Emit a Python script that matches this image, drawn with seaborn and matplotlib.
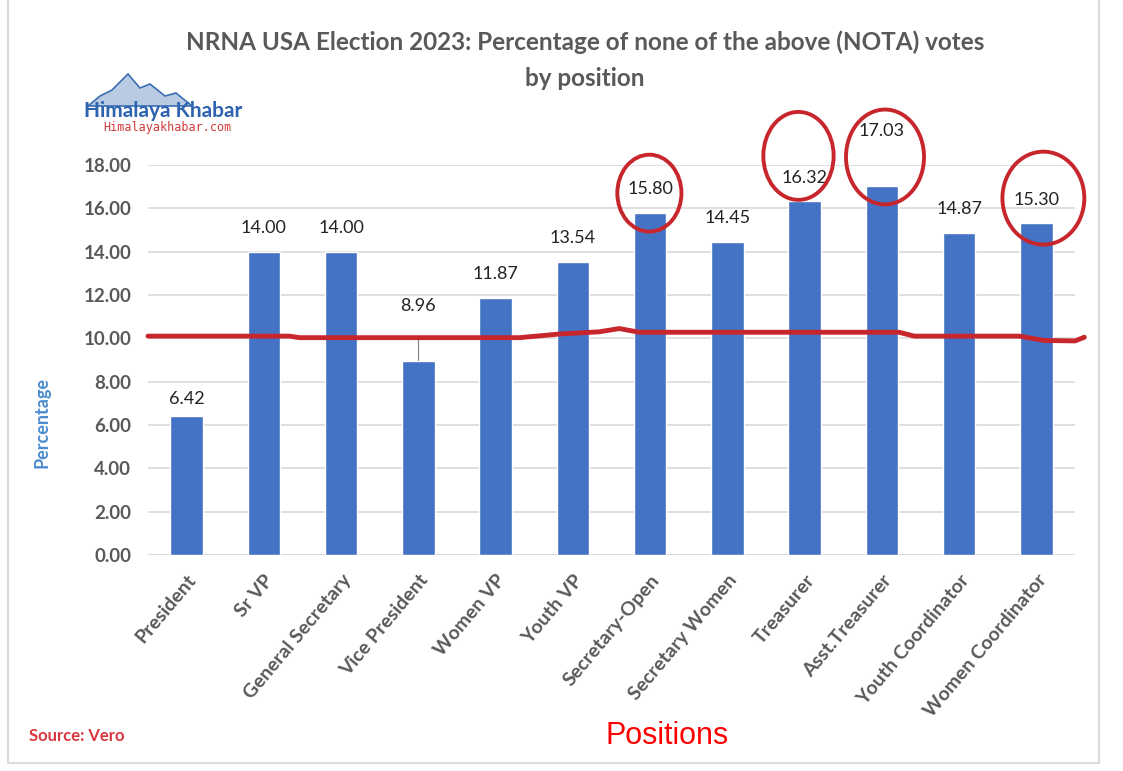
import matplotlib
matplotlib.use("Agg")
import matplotlib.pyplot as plt
from matplotlib.patches import Ellipse, Polygon
import seaborn as sns
import pandas as pd
import numpy as np

positions = ["President", "Sr VP", "General Secretary", "Vice President", "Women VP",
             "Youth VP", "Secretary-Open", "Secretary Women", "Treasurer",
             "Asst.Treasurer", "Youth Coordinator", "Women Coordinator"]
nota_pct = [6.42, 14.00, 14.00, 8.96, 11.87, 13.54, 15.80, 14.45, 16.32, 17.03, 14.87, 15.30]
y_ticks = [0, 2, 4, 6, 8, 10, 12, 14, 16, 18]

# hand-drawn red reference line (approximate trace)
red_x = [-0.5, 1.33, 1.46, 4.31, 4.83, 5.34, 5.6, 5.86, 9.22, 9.42, 10.78, 11.1, 11.5, 11.62]
red_y = [10.1, 10.1, 10.03, 10.03, 10.2, 10.3, 10.45, 10.28, 10.28, 10.1, 10.1, 9.9, 9.88, 10.05]
circled = ["Secretary-Open", "Treasurer", "Asst.Treasurer", "Women Coordinator"]

df = pd.DataFrame({"Position": positions, "NOTA": nota_pct})

sns.set_theme(style="white")
plt.rcParams['font.family'] = ['Lato', 'DejaVu Sans']

W, H = 1123, 771
fig = plt.figure(figsize=(W / 100, H / 100), dpi=100)
fig.patch.set_facecolor("white")
ax = fig.add_axes([0.1318, 0.2802, 0.8255, 0.5058])

sns.barplot(data=df, x="Position", y="NOTA", color="#4472C4", saturation=1,
            width=0.42, ax=ax, zorder=2)

ax.set_xlim(-0.5, len(positions) - 0.5)
ax.set_ylim(0, 18)
ax.set_yticks(y_ticks)
ax.set_yticklabels([f"{v:.2f}" for v in y_ticks], fontsize=13.5, color="#595959",
                   fontweight="bold")
ax.tick_params(axis="y", length=0, pad=12)
ax.tick_params(axis="x", length=0, pad=12)
ax.grid(axis="y", color="#d9d9d9", linewidth=1.2, zorder=0)
ax.set_axisbelow(True)
for s in ax.spines.values():
    s.set_visible(False)
ax.axhline(0, color="#d9d9d9", linewidth=1.2, zorder=1)

ax.set_xticks(range(len(positions)))
ax.set_xticklabels(positions, rotation=50, ha="right", rotation_mode="anchor",
                   fontsize=14, color="#595959", fontweight="bold")
ax.set_xlabel("")
ax.set_ylabel("Percentage", fontsize=13, color="#4A8BD0", fontweight="bold")
ax.yaxis.set_label_coords(-0.105, 0.34)

# data labels
extra = {3: 1.45, 9: 1.45, 0: -0.3}
for i, v in enumerate(nota_pct):
    off = 1.1 + extra.get(i, 0)
    ax.text(i, v + off, f"{v:.2f}", ha="center", va="center", fontsize=13,
            color="#222222", clip_on=False, zorder=4)
# leader line for Vice President label
ax.plot([3.0, 3.0], [nota_pct[3] + 0.05, nota_pct[3] + 1.05], color="#7f7f7f",
        linewidth=0.8, zorder=3)

# red hand-drawn line
ax.plot(red_x, red_y, color="#C8262D", linewidth=3.5, clip_on=False, zorder=5,
        solid_capstyle="round")

# hand-drawn circles
circ_dx = [-0.01, -0.08, 0.04, 0.09]
circ_dy = [0.9, 2.1, 1.34, 1.17]
circ_w = [0.83, 0.91, 1.01, 1.06]
circ_h = [3.55, 4.06, 4.38, 4.29]
for k, name in enumerate(circled):
    i = positions.index(name)
    e = Ellipse((i + circ_dx[k], nota_pct[i] + circ_dy[k]), circ_w[k], circ_h[k],
                fill=False, edgecolor="#C8262D", linewidth=2.8, clip_on=False, zorder=6)
    ax.add_patch(e)

# title
fig.text(0.521, 0.945, "NRNA USA Election 2023: Percentage of none of the above (NOTA) votes",
         ha="center", va="center", fontsize=17.5, fontweight="bold", color="#595959")
fig.text(0.521, 0.898, "by position", ha="center", va="center", fontsize=17.5,
         fontweight="bold", color="#595959")

# logo
def px(x, y):
    return [x / W, 1 - y / H]

mountain = Polygon([px(88, 106), px(100, 96), px(112, 90), px(128, 74), px(140, 88),
                    px(150, 84), px(165, 96), px(176, 93), px(192, 106)],
                   closed=True, transform=fig.transFigure, facecolor="#B9CBE3",
                   edgecolor="#3C6FB4", linewidth=1.2)
fig.add_artist(mountain)
fig.text(163 / W, 1 - 111 / H, "Himalaya Khabar", ha="center", va="center", fontsize=15,
         fontweight="bold", color="#2E63B0")
fig.text(167 / W, 1 - 128 / H, "Himalayakhabar.com", ha="center", va="center", fontsize=8.5,
         family="DejaVu Sans Mono", color="#D23B3B")

# bottom texts
fig.text(0.594, 0.045, "Positions", ha="center", va="center", fontsize=22,
         family="Liberation Sans", color="#FF0000")
fig.text(0.026, 0.045, "Source: Vero", ha="left", va="center", fontsize=12,
         fontweight="bold", color="#D9363E")

# faint spreadsheet frame
for xx in [0.007, 0.979]:
    fig.add_artist(plt.Line2D([xx, xx], [0.01, 1.0], transform=fig.transFigure,
                              color="#dcdcdc", linewidth=1.5))
fig.add_artist(plt.Line2D([0.007, 0.979], [0.01, 0.01], transform=fig.transFigure,
                          color="#dcdcdc", linewidth=1.5))

fig.savefig("out.png", dpi=100, facecolor="white")
